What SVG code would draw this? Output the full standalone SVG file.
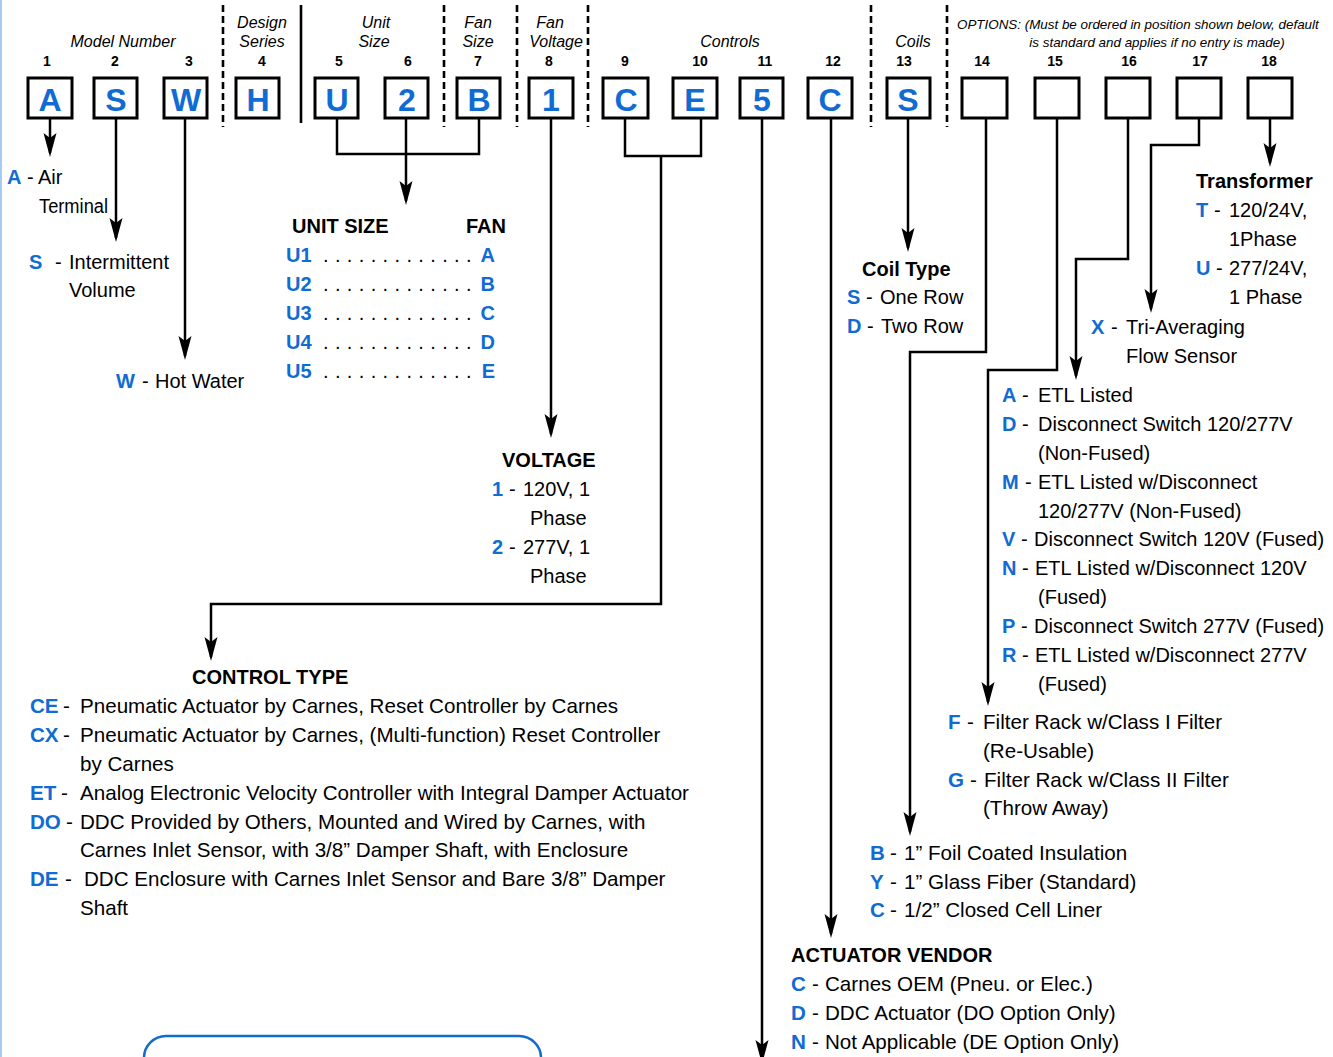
<svg xmlns="http://www.w3.org/2000/svg" width="1333" height="1057" viewBox="0 0 1333 1057">
<style>
text{font-family:"Liberation Sans",Arial,sans-serif;fill:#000}
.t{font-size:20px}
.t2{font-size:20.6px}
.h{font-size:20px;font-weight:bold}
.k{fill:#106cd2;font-weight:bold}
.num{font-size:14px;font-weight:bold;text-anchor:middle}
.lab{font-size:16px;font-style:italic;text-anchor:middle}
.opt{font-size:13.4px;font-style:italic}
.big{font-size:32px;font-weight:bold;fill:#106cd2;text-anchor:middle}
.box{fill:#fff;stroke:#000;stroke-width:3}
.dash{stroke:#000;stroke-width:2.6;stroke-dasharray:7 4;fill:none}
.ln{stroke:#000;stroke-width:2.5;fill:none}
.ar{stroke:#000;stroke-width:2.5;fill:none;marker-end:url(#arr)}
</style>
<defs>
<marker id="arr" markerUnits="userSpaceOnUse" orient="auto" refX="0" refY="0" markerWidth="30" markerHeight="20" viewBox="-25 -10 30 20" overflow="visible">
<path d="M4,0 L-20,-6.5 L-15,0 L-20,6.5 Z" fill="#000"/>
</marker>
</defs>
<rect x="0" y="0" width="1333" height="1057" fill="#fff"/>
<line x1="1" y1="0" x2="1" y2="1057" stroke="#a9c9ef" stroke-width="2"/>

<g id="dividers">
<line class="dash" x1="223" y1="5" x2="223" y2="127"/>
<line x1="301" y1="5" x2="301" y2="123" stroke="#000" stroke-width="2.6"/>
<line class="dash" x1="444" y1="5" x2="444" y2="127"/>
<line class="dash" x1="517" y1="5" x2="517" y2="127"/>
<line class="dash" x1="588" y1="5" x2="588" y2="127"/>
<line class="dash" x1="871" y1="5" x2="871" y2="127"/>
<line class="dash" x1="947" y1="5" x2="947" y2="127"/>
</g>

<g id="header-labels">
<text class="lab" x="123" y="47">Model Number</text>
<text class="lab" x="262" y="28">Design</text>
<text class="lab" x="262" y="47">Series</text>
<text class="lab" x="376" y="28">Unit</text>
<text class="lab" x="374" y="47">Size</text>
<text class="lab" x="478" y="28">Fan</text>
<text class="lab" x="478" y="47">Size</text>
<text class="lab" x="550" y="28">Fan</text>
<text class="lab" x="556" y="47">Voltage</text>
<text class="lab" x="730" y="47">Controls</text>
<text class="lab" x="913" y="47">Coils</text>
<text class="opt" x="957" y="29">OPTIONS: (Must be ordered in position shown below, default</text>
<text class="opt" x="1157" y="47" text-anchor="middle">is standard and applies if no entry is made)</text>
</g>

<g id="connectors">
<polyline class="ar" points="50,118 50,153"/>
<polyline class="ar" points="116,118 116,238"/>
<polyline class="ar" points="185,118 185,356"/>
<polyline class="ln" points="337,118 337,154 479,154 479,118"/>
<polyline class="ar" points="406,118 406,201"/>
<polyline class="ar" points="551,118 551,434"/>
<polyline class="ln" points="625,118 625,156 701,156 701,118"/>
<polyline class="ar" points="661,156 661,604 211,604 211,657"/>
<polyline class="ar" points="762,118 762,1060"/>
<polyline class="ar" points="831,118 831,934"/>
<polyline class="ar" points="908,118 908,248"/>
<polyline class="ar" points="986,118 986,352 910,352 910,832"/>
<polyline class="ar" points="1057,118 1057,370 988,370 988,702"/>
<polyline class="ar" points="1128,118 1128,259 1076,259 1076,376"/>
<polyline class="ar" points="1199,118 1199,145 1151,145 1151,309"/>
<polyline class="ar" points="1270,118 1270,163"/>
</g>

<g id="pos1"><text class="num" x="47" y="66">1</text><rect class="box" x="28" y="78" width="44" height="40"/><text class="big" x="50" y="111">A</text></g>
<g id="pos2"><text class="num" x="115" y="66">2</text><rect class="box" x="94" y="78" width="43" height="40"/><text class="big" x="116" y="111">S</text></g>
<g id="pos3"><text class="num" x="189" y="66">3</text><rect class="box" x="164" y="78" width="43" height="40"/><text class="big" x="186" y="111">W</text></g>
<g id="pos4"><text class="num" x="262" y="66">4</text><rect class="box" x="236" y="78" width="43" height="40"/><text class="big" x="258" y="111">H</text></g>
<g id="pos5"><text class="num" x="339" y="66">5</text><rect class="box" x="315" y="78" width="43" height="40"/><text class="big" x="337" y="111">U</text></g>
<g id="pos6"><text class="num" x="408" y="66">6</text><rect class="box" x="385" y="78" width="43" height="40"/><text class="big" x="407" y="111">2</text></g>
<g id="pos7"><text class="num" x="478" y="66">7</text><rect class="box" x="457" y="78" width="43" height="40"/><text class="big" x="479" y="111">B</text></g>
<g id="pos8"><text class="num" x="549" y="66">8</text><rect class="box" x="529" y="78" width="44" height="40"/><text class="big" x="551" y="111">1</text></g>
<g id="pos9"><text class="num" x="625" y="66">9</text><rect class="box" x="603" y="78" width="45" height="40"/><text class="big" x="626" y="111">C</text></g>
<g id="pos10"><text class="num" x="700" y="66">10</text><rect class="box" x="673" y="78" width="44" height="40"/><text class="big" x="695" y="111">E</text></g>
<g id="pos11"><text class="num" x="765" y="66">11</text><rect class="box" x="740" y="78" width="43" height="40"/><text class="big" x="762" y="111">5</text></g>
<g id="pos12"><text class="num" x="833" y="66">12</text><rect class="box" x="808" y="78" width="44" height="40"/><text class="big" x="830" y="111">C</text></g>
<g id="pos13"><text class="num" x="904" y="66">13</text><rect class="box" x="887" y="78" width="43" height="40"/><text class="big" x="908" y="111">S</text></g>
<g id="pos14"><text class="num" x="982" y="66">14</text><rect class="box" x="962" y="78" width="45" height="40"/></g>
<g id="pos15"><text class="num" x="1055" y="66">15</text><rect class="box" x="1035" y="78" width="44" height="40"/></g>
<g id="pos16"><text class="num" x="1129" y="66">16</text><rect class="box" x="1106" y="78" width="44" height="40"/></g>
<g id="pos17"><text class="num" x="1200" y="66">17</text><rect class="box" x="1177" y="78" width="44" height="40"/></g>
<g id="pos18"><text class="num" x="1269" y="66">18</text><rect class="box" x="1248" y="78" width="44" height="40"/></g>

<g id="model-a" class="t">
<text y="184"><tspan class="k" x="7">A</tspan><tspan x="27">-</tspan><tspan x="38">Air</tspan></text>
<text x="39" y="213" textLength="69" lengthAdjust="spacingAndGlyphs">Terminal</text>
</g>
<g id="model-s" class="t">
<text y="269"><tspan class="k" x="29">S</tspan><tspan x="55">-</tspan><tspan x="69">Intermittent</tspan></text>
<text x="69" y="297">Volume</text>
</g>
<g id="model-w" class="t">
<text y="388"><tspan class="k" x="116">W</tspan><tspan x="142">-</tspan><tspan x="155">Hot Water</tspan></text>
</g>

<g id="unit-size">
<text class="h" x="292" y="233">UNIT SIZE</text>
<text class="h" x="466" y="233">FAN</text>
<g class="h">
<text class="k" x="286" y="262">U1</text>
<text class="k" x="286" y="291">U2</text>
<text class="k" x="286" y="320">U3</text>
<text class="k" x="286" y="349">U4</text>
<text class="k" x="286" y="378">U5</text>
<text class="k" x="495" y="262" text-anchor="end">A</text>
<text class="k" x="495" y="291" text-anchor="end">B</text>
<text class="k" x="495" y="320" text-anchor="end">C</text>
<text class="k" x="495" y="349" text-anchor="end">D</text>
<text class="k" x="495" y="378" text-anchor="end">E</text>
</g>
<g class="t" letter-spacing="0.4">
<text x="323" y="262">. . . . . . . . . . . . .</text>
<text x="323" y="291">. . . . . . . . . . . . .</text>
<text x="323" y="320">. . . . . . . . . . . . .</text>
<text x="323" y="349">. . . . . . . . . . . . .</text>
<text x="323" y="378">. . . . . . . . . . . . .</text>
</g>
</g>

<g id="voltage" class="t">
<text class="h" x="502" y="467">VOLTAGE</text>
<text y="496"><tspan class="k" x="492">1</tspan><tspan x="509">-</tspan><tspan x="523">120V, 1</tspan></text>
<text x="530" y="525">Phase</text>
<text y="554"><tspan class="k" x="492">2</tspan><tspan x="509">-</tspan><tspan x="523">277V, 1</tspan></text>
<text x="530" y="583">Phase</text>
</g>

<g id="control-type" class="t2">
<text class="h" x="192" y="684">CONTROL TYPE</text>
<text y="713"><tspan class="k" x="30">CE</tspan><tspan x="63">-</tspan><tspan x="80">Pneumatic Actuator by Carnes, Reset Controller by Carnes</tspan></text>
<text y="742"><tspan class="k" x="30">CX</tspan><tspan x="63">-</tspan><tspan x="80">Pneumatic Actuator by Carnes, (Multi-function) Reset Controller</tspan></text>
<text x="80" y="771">by Carnes</text>
<text y="800"><tspan class="k" x="30">ET</tspan><tspan x="61">-</tspan><tspan x="80">Analog Electronic Velocity Controller with Integral Damper Actuator</tspan></text>
<text y="829"><tspan class="k" x="30">DO</tspan><tspan x="66">-</tspan><tspan x="80">DDC Provided by Others, Mounted and Wired by Carnes, with</tspan></text>
<text x="80" y="857">Carnes Inlet Sensor, with 3/8” Damper Shaft, with Enclosure</text>
<text y="886"><tspan class="k" x="30">DE</tspan><tspan x="65">-</tspan><tspan x="84">DDC Enclosure with Carnes Inlet Sensor and Bare 3/8” Damper</tspan></text>
<text x="80" y="915">Shaft</text>
</g>

<g id="coil-type" class="t">
<text class="h" x="862" y="276">Coil Type</text>
<text y="304"><tspan class="k" x="847">S</tspan><tspan x="866">-</tspan><tspan x="880">One Row</tspan></text>
<text y="333"><tspan class="k" x="847">D</tspan><tspan x="867">-</tspan><tspan x="881">Two Row</tspan></text>
</g>

<g id="transformer" class="t">
<text class="h" x="1196" y="188">Transformer</text>
<text y="217"><tspan class="k" x="1196">T</tspan><tspan x="1214">-</tspan><tspan x="1229">120/24V,</tspan></text>
<text x="1229" y="246">1Phase</text>
<text y="275"><tspan class="k" x="1196">U</tspan><tspan x="1216">-</tspan><tspan x="1229">277/24V,</tspan></text>
<text x="1229" y="304">1 Phase</text>
</g>

<g id="flow-sensor" class="t">
<text y="334"><tspan class="k" x="1091">X</tspan><tspan x="1111">-</tspan><tspan x="1126">Tri-Averaging</tspan></text>
<text x="1126" y="363">Flow Sensor</text>
</g>

<g id="electrical" class="t">
<text y="402"><tspan class="k" x="1002">A</tspan><tspan x="1022">-</tspan><tspan x="1038">ETL Listed</tspan></text>
<text y="431"><tspan class="k" x="1002">D</tspan><tspan x="1022">-</tspan><tspan x="1038">Disconnect Switch 120/277V</tspan></text>
<text x="1038" y="460">(Non-Fused)</text>
<text y="489"><tspan class="k" x="1002">M</tspan><tspan x="1025">-</tspan><tspan x="1038">ETL Listed w/Disconnect</tspan></text>
<text x="1038" y="518">120/277V (Non-Fused)</text>
<text y="546"><tspan class="k" x="1002">V</tspan><tspan x="1021">-</tspan><tspan x="1034">Disconnect Switch 120V (Fused)</tspan></text>
<text y="575"><tspan class="k" x="1002">N</tspan><tspan x="1022">-</tspan><tspan x="1035">ETL Listed w/Disconnect 120V</tspan></text>
<text x="1038" y="604">(Fused)</text>
<text y="633"><tspan class="k" x="1002">P</tspan><tspan x="1021">-</tspan><tspan x="1034">Disconnect Switch 277V (Fused)</tspan></text>
<text y="662"><tspan class="k" x="1002">R</tspan><tspan x="1022">-</tspan><tspan x="1035">ETL Listed w/Disconnect 277V</tspan></text>
<text x="1038" y="691">(Fused)</text>
</g>

<g id="filter" class="t2">
<text y="729"><tspan class="k" x="948">F</tspan><tspan x="967">-</tspan><tspan x="983">Filter Rack w/Class I Filter</tspan></text>
<text x="983" y="758">(Re-Usable)</text>
<text y="787"><tspan class="k" x="948">G</tspan><tspan x="970">-</tspan><tspan x="984">Filter Rack w/Class II Filter</tspan></text>
<text x="983" y="815">(Throw Away)</text>
</g>

<g id="liner" class="t2">
<text y="860"><tspan class="k" x="870">B</tspan><tspan x="890">-</tspan><tspan x="904">1” Foil Coated Insulation</tspan></text>
<text y="889"><tspan class="k" x="870">Y</tspan><tspan x="890">-</tspan><tspan x="904">1” Glass Fiber (Standard)</tspan></text>
<text y="917"><tspan class="k" x="870">C</tspan><tspan x="890">-</tspan><tspan x="904">1/2” Closed Cell Liner</tspan></text>
</g>

<g id="actuator-vendor" class="t2">
<text class="h" x="791" y="962">ACTUATOR VENDOR</text>
<text y="991"><tspan class="k" x="791">C</tspan><tspan x="812">-</tspan><tspan x="825">Carnes OEM (Pneu. or Elec.)</tspan></text>
<text y="1020"><tspan class="k" x="791">D</tspan><tspan x="812">-</tspan><tspan x="825">DDC Actuator (DO Option Only)</tspan></text>
<text y="1049"><tspan class="k" x="791">N</tspan><tspan x="812">-</tspan><tspan x="825">Not Applicable (DE Option Only)</tspan></text>
</g>

<g id="bottom-panel">
<rect x="144" y="1036" width="397" height="80" rx="22" ry="22" fill="none" stroke="#106cd2" stroke-width="2.5"/>
</g>
</svg>
